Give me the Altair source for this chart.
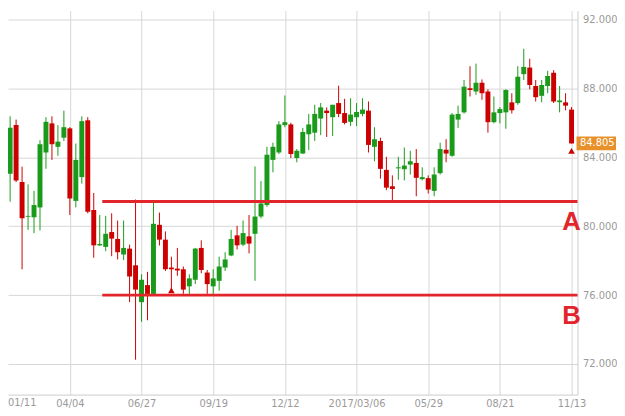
import altair as alt
import pandas as pd

# Weekly candles, first candle week of 2016-01-11
start = "2016-01-11"
opens = [81.70, 79.70, 83.04, 85.87, 82.56, 80.55, 80.52, 81.09, 84.28, 85.97,
         84.61, 85.14, 85.68, 81.47, 82.85, 86.15, 80.94, 78.89, 78.80, 79.66,
         79.26, 78.36, 78.70, 77.73, 75.59, 76.58, 76.07, 80.08, 79.22, 77.60,
         77.54, 77.50, 76.51, 76.89, 78.74, 77.31, 76.51, 76.83, 77.60, 78.30,
         79.47, 78.93, 79.41, 79.56, 80.56, 81.23, 83.85, 84.28, 85.87, 85.91,
         83.96, 84.22, 85.34, 85.43, 86.25, 86.71, 86.33, 87.15, 86.57, 86.06,
         86.33, 86.52, 86.71, 84.61, 84.95, 83.27, 82.32, 83.36, 83.31, 83.58,
         83.67, 82.73, 82.79, 82.05, 83.08, 84.44, 84.09, 86.19, 86.61, 88.01,
         87.82, 88.33, 87.82, 86.04, 86.57, 86.61, 87.19, 87.15, 88.83, 89.21,
         88.14, 87.57, 88.14, 88.91, 87.20, 87.19, 86.77]
highs = [82.00, 83.52, 86.38, 86.19, 83.46, 82.43, 82.05, 84.99, 86.33, 86.38,
         85.87, 86.71, 85.75, 84.80, 86.38, 86.33, 81.93, 80.65, 80.60, 80.75,
         80.33, 80.33, 78.93, 81.55, 77.21, 77.35, 81.42, 80.79, 79.70, 78.23,
         78.74, 77.66, 77.21, 78.74, 79.18, 77.46, 77.50, 78.23, 78.49, 79.79,
         80.02, 80.33, 80.65, 83.47, 82.62, 84.61, 84.85, 86.10, 87.59, 86.00,
         84.48, 85.71, 86.52, 87.05, 87.15, 86.90, 87.05, 88.16, 87.40, 87.43,
         87.15, 87.43, 87.24, 85.75, 85.14, 84.03, 82.95, 84.03, 84.57, 84.38,
         84.48, 83.42, 82.95, 83.42, 84.85, 85.05, 86.57, 87.00, 88.49, 89.29,
         89.44, 88.52, 87.95, 87.53, 86.92, 87.95, 87.72, 89.29, 90.30, 89.72,
         88.49, 88.49, 89.02, 89.06, 88.14, 87.72, 86.92]
lows = [79.80, 79.22, 81.42, 82.56, 77.50, 79.79, 79.60, 79.75, 83.33, 83.85,
        84.09, 84.95, 80.65, 81.09, 82.47, 80.75, 78.17, 78.85, 78.55, 78.26,
        78.07, 78.03, 75.59, 72.25, 74.45, 74.54, 76.00, 78.88, 77.40, 76.17,
        77.12, 76.07, 76.07, 76.64, 77.27, 76.07, 76.07, 76.26, 77.40, 78.26,
        78.65, 78.84, 78.42, 76.83, 80.46, 81.13, 83.13, 84.19, 85.75, 83.96,
        83.71, 84.19, 84.42, 84.95, 85.29, 85.18, 85.24, 86.33, 85.91, 85.81,
        85.81, 86.38, 84.28, 83.77, 82.76, 82.09, 81.51, 82.70, 82.66, 83.00,
        81.74, 82.66, 81.90, 81.74, 83.00, 83.71, 84.03, 85.71, 86.54, 87.53,
        87.63, 87.34, 85.43, 85.97, 85.97, 85.66, 86.54, 87.05, 88.49, 87.95,
        87.24, 87.19, 87.72, 87.15, 86.61, 86.73, 84.80]
closes = [80.18, 83.23, 85.71, 82.66, 80.46, 80.60, 81.23, 84.76, 86.06, 84.76,
          84.91, 85.75, 81.61, 83.85, 86.10, 80.84, 78.89, 78.97, 79.56, 79.28,
          78.49, 78.74, 77.08, 76.32, 76.89, 76.07, 80.14, 79.22, 77.50, 77.50,
          77.43, 76.32, 76.97, 78.70, 77.46, 76.64, 76.97, 77.66, 78.07, 79.26,
          78.89, 79.60, 78.99, 80.56, 81.32, 84.15, 84.61, 85.91, 86.04, 84.19,
          84.38, 85.47, 85.91, 86.52, 86.90, 86.57, 87.05, 86.52, 86.00, 86.48,
          86.63, 86.77, 84.72, 85.05, 83.33, 82.24, 82.16, 83.42, 83.52, 83.77,
          82.81, 82.85, 82.13, 83.00, 84.48, 84.22, 86.48, 86.52, 88.10, 87.91,
          88.33, 87.72, 86.04, 86.61, 86.80, 87.91, 86.73, 88.68, 89.25, 88.20,
          87.49, 88.20, 88.72, 87.24, 87.30, 87.00, 84.805]

# Support / resistance lines
level_names = ["A", "B"]
level_values = [81.44, 76.00]
level_start = "2016-05-12"
level_end = "2017-11-20"
level_label_date = "2017-11-13"

# Triangle markers
marker_dates = ["2016-08-01", "2017-11-13"]
marker_values = [76.27, 84.38]

# Axis ticks
x_ticks = ["2016-04-04", "2016-06-27", "2016-09-19", "2016-12-12",
           "2017-03-06", "2017-05-29", "2017-08-21", "2017-11-13"]
first_tick_label = "01/11"
y_ticks = [72, 76, 80, 84, 88, 92]
last_price = closes[-1]

GREEN = "#1a9a1a"
RED = "#cc0000"
LINE_RED = "#e2252b"
TAG = "#e8912b"
LABEL_GRAY = "#9a9a9a"
GRID = "#d6d6d6"

W, H = 577, 389

dates = pd.date_range(start, periods=len(opens), freq="7D").strftime("%Y-%m-%d")
df = pd.DataFrame({"date": dates, "open": opens, "high": highs,
                   "low": lows, "close": closes})
df["dir"] = ["up" if c >= o else "down" for o, c in zip(opens, closes)]

lv = pd.DataFrame({"name": level_names, "value": level_values,
                   "start": level_start, "end": level_end,
                   "ldate": level_label_date})
mk = pd.DataFrame({"date": marker_dates, "value": marker_values})


def dt(s, hours=0):
    y, m, d = [int(p) for p in s.split("-")]
    return alt.DateTime(year=y, month=m, date=d, hours=hours, utc=True)


xscale = alt.Scale(type="utc", domain=[dt("2016-01-22", 12), dt("2017-11-20")],
                   padding=0, nice=False)
yscale = alt.Scale(domain=[70.224, 92.516], nice=False, zero=False, padding=0)

xaxis = alt.Axis(values=[dt(s) for s in x_ticks], title=None, ticks=False,
                 grid=True, gridColor=GRID, gridWidth=1,
                 domainColor="#cccccc", labelColor=LABEL_GRAY,
                 labelFont="DejaVu Sans", labelFontSize=10, labelPadding=4,
                 labelFlush=False, labelOverlap=False,
                 labelExpr="utcFormat(datum.value, utcyear(datum.value) == 2017 && utcmonth(datum.value) == 2 ? '%Y/%m/%d' : '%m/%d')")
yaxis = alt.Axis(orient="right", values=y_ticks, format=".3f", title=None,
                 ticks=False, tickSize=0, grid=True, gridColor=GRID,
                 domainColor="#cccccc", labelColor=LABEL_GRAY,
                 labelFont="DejaVu Sans", labelFontSize=10, labelPadding=5)

color = alt.Color("dir:N", scale=alt.Scale(domain=["up", "down"], range=[GREEN, RED]),
                  legend=None)

base = alt.Chart(df)
wicks = base.mark_rule(strokeWidth=1).encode(
    x=alt.X("date:T", scale=xscale, axis=xaxis),
    y=alt.Y("low:Q", scale=yscale, axis=yaxis),
    y2="high:Q",
    color=color,
)
bodies = base.mark_bar(size=5).encode(
    x="date:T", y="open:Q", y2="close:Q", color=color,
)

lines = alt.Chart(lv).mark_rule(strokeWidth=3, color=LINE_RED).encode(
    x="start:T", x2="end:T", y="value:Q",
)
line_labels = alt.Chart(lv).mark_text(
    color=LINE_RED, font="Liberation Sans", fontSize=26, fontWeight="bold",
    dy=21, align="center", baseline="middle",
).encode(x="ldate:T", y="value:Q", text="name:N")

markers = alt.Chart(mk).mark_point(shape="triangle-up", filled=True, size=45,
                                   color=RED, opacity=1).encode(
    x="date:T", y="value:Q",
)

tag_half = 7 / 17.45
tag_df = pd.DataFrame({"price": [last_price],
                       "top": [last_price + tag_half],
                       "bot": [last_price - tag_half],
                       "label": [f"{last_price:.3f}"]})
tag_rect = alt.Chart(tag_df).mark_rect(color=TAG).encode(
    x=alt.value(W - 1), x2=alt.value(W + 39), y="top:Q", y2="bot:Q",
)
tag_text = alt.Chart(tag_df).mark_text(color="white", font="DejaVu Sans",
                                       fontSize=10, align="center",
                                       baseline="middle").encode(
    x=alt.value(W + 20), y="price:Q", text="label:N",
)

first_lbl = alt.Chart(pd.DataFrame({"t": [first_tick_label]})).mark_text(
    color=LABEL_GRAY, font="DejaVu Sans", fontSize=10, align="left",
    baseline="top").encode(x=alt.value(0), y=alt.value(H + 4), text="t:N")

chart = alt.layer(wicks, bodies, lines, markers, line_labels, tag_rect,
                  tag_text, first_lbl).properties(
    width=W, height=H,
    autosize=alt.AutoSizeParams(type="none"),
    padding={"left": 0, "top": 0, "right": 40, "bottom": 18},
    background="white",
).configure_view(stroke=None)

chart.save("out.html", embed_options={"renderer": "svg", "actions": False})
